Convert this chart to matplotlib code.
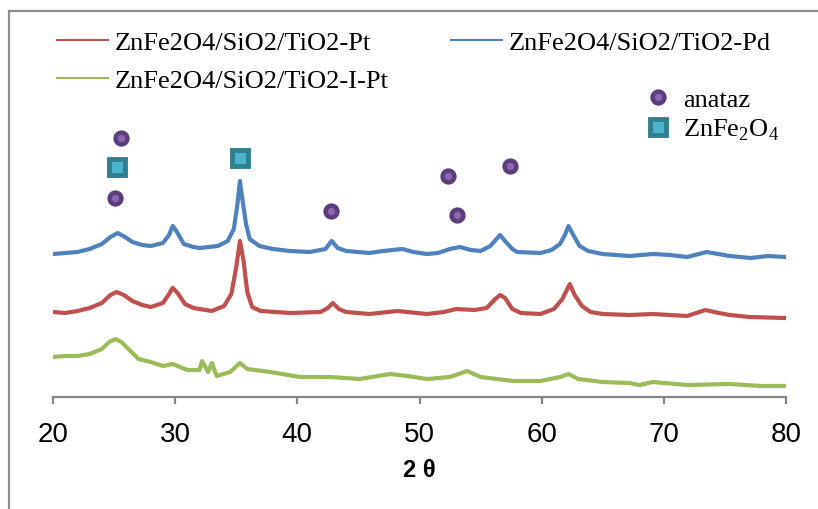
import matplotlib
matplotlib.use('Agg')
import matplotlib.pyplot as plt
from matplotlib.lines import Line2D
from matplotlib.patches import Rectangle

# XRD patterns (2 theta, intensity a.u.)
tt_pd = [20, 21, 22, 23, 24, 24.7, 25.3, 25.9, 26.5, 27.3,
         28, 29, 29.5, 29.8, 30.2, 30.7, 31.5, 32, 33.5, 34.3,
         34.8, 35.1, 35.3, 35.5, 35.8, 36.1, 36.9, 38, 39.4, 41,
         42.3, 42.8, 43.3, 44, 45.9, 47, 48.6, 49.5, 50.6, 51.5,
         52.5, 53.3, 54.2, 55.0, 55.8, 56.3, 56.6, 57.0, 57.6, 58.0,
         59.9, 60.8, 61.5, 61.9, 62.2, 62.5, 63.1, 63.8, 65.0, 67.2,
         69.1, 70.5, 71.9, 73.5, 75.4, 77.1, 78.5, 80]
I_pd = [143, 144, 145, 148, 153, 160, 164, 160, 155, 152,
        151, 154, 162, 171, 164, 153, 150, 149, 151, 156,
        168, 193, 216, 198, 173, 158, 151, 148, 146, 145,
        148, 156, 149, 146, 144, 146, 148, 145, 143, 144,
        148, 150, 147, 146, 151, 158, 162, 156, 148, 145,
        144, 147, 153, 162, 171, 164, 151, 146, 143, 141,
        143, 142, 140, 145, 141, 139, 141, 140]

tt_pt = [20, 21, 22, 23, 24, 24.7, 25.2, 25.8, 26.5, 27.3,
         28, 29, 29.5, 29.8, 30.2, 30.8, 31.5, 33, 34, 34.6,
         35.0, 35.3, 35.6, 35.9, 36.3, 37, 39.4, 41.9, 42.5, 42.9,
         43.4, 44, 45.9, 48.2, 50.6, 52.0, 53.0, 54.5, 55.5, 56.2,
         56.6, 57.0, 57.6, 58.3, 59.9, 61.0, 61.7, 62.3, 62.7, 63.3,
         64.0, 65.0, 67.2, 69.1, 71.9, 73.4, 74.5, 75.4, 77, 80]
I_pt = [85, 84, 86, 89, 94, 102, 105, 102, 96, 92,
        90, 94, 103, 109, 104, 93, 89, 86, 91, 103,
        130, 156, 136, 105, 90, 86, 84, 85, 89, 94,
        88, 85, 83, 86, 83, 85, 88, 87, 89, 98,
        102, 99, 88, 84, 83, 88, 98, 113, 102, 91,
        85, 83, 82, 83, 81, 87, 84, 82, 80, 79]

tt_ipt = [20, 21, 22, 23, 24, 24.6, 25.1, 25.6, 26.0, 26.6,
          27, 28, 29, 29.8, 31, 32, 32.2, 32.7, 33.0, 33.4,
          34.5, 35.3, 35.9, 37.8, 40.2, 42.7, 45.1, 47.6, 49.0, 50.6,
          52.5, 53.9, 55.0, 57.7, 59.9, 61.5, 62.2, 63.0, 65.0, 67.2,
          68, 69.1, 71.9, 75.4, 78, 80]
I_ipt = [40, 41, 41, 43, 48, 55, 58, 55, 50, 43,
         38, 35, 31, 33, 27, 27, 36, 25, 34, 21,
         25, 34, 28, 25, 20, 20, 18, 23, 21, 18,
         20, 26, 20, 16, 16, 20, 23, 18, 15, 14,
         12, 15, 12, 13, 11, 11]

# phase markers
anat_x = [25.57, 25.07, 42.76, 52.33, 53.07, 57.41]
anat_y = [259, 199, 186, 221, 182, 231]
znfe_x = [25.24, 35.31]
znfe_y = [230, 239]

c_pt = '#C0504D'
c_pd = '#4F81BD'
c_ipt = '#9BBB59'

fig = plt.figure(figsize=(8.18, 5.10), dpi=100)
ax = fig.add_axes([53/818, 1-398/510, (786-53)/818, 378/510])

lw = 3.0
l_pt, = ax.plot(tt_pt, I_pt, color=c_pt, lw=lw)
l_pd, = ax.plot(tt_pd, I_pd, color=c_pd, lw=lw)
l_ipt, = ax.plot(tt_ipt, I_ipt, color=c_ipt, lw=lw)

circ = dict(marker='o', ls='none', markersize=8.5, markeredgewidth=3.2,
            markeredgecolor='#5C3D7E', markerfacecolor='#8B67AD')
sq = dict(marker='s', ls='none', markersize=12, markeredgewidth=3.5,
          markeredgecolor='#2F7F8E', markerfacecolor='#4DB3CA')
ax.plot(anat_x, anat_y, **circ)
ax.plot(znfe_x, znfe_y, **sq)

ax.set_xlim(20, 80)
ax.set_ylim(0, 378)
ax.set_xticks([20, 30, 40, 50, 60, 70, 80])
ax.set_yticks([])
for s in ['top', 'right', 'left']:
    ax.spines[s].set_visible(False)
ax.spines['bottom'].set_color('#868686')
ax.spines['bottom'].set_linewidth(1.6)
ax.tick_params(axis='x', direction='out', length=5, width=1.6, color='#868686',
               labelsize=20, pad=12)
for t in ax.get_xticklabels():
    t.set_family(['Liberation Sans Narrow', 'Liberation Sans'])
ax.set_xlabel('2 θ', fontsize=17, fontweight='bold', labelpad=8,
              family=['Liberation Sans Narrow', 'Liberation Sans'])

serif = {'family': 'Liberation Serif', 'size': 19}
leg1 = fig.legend([l_pt, l_ipt, l_pd],
                  ['ZnFe2O4/SiO2/TiO2-Pt', 'ZnFe2O4/SiO2/TiO2-I-Pt', 'ZnFe2O4/SiO2/TiO2-Pd'],
                  ncol=2, loc='upper left', bbox_to_anchor=(57/818, 1-32/510),
                  frameon=False, prop=serif, handlelength=1.95, handletextpad=0.25,
                  columnspacing=2.35, labelspacing=0.55, borderpad=0, borderaxespad=0)
for h in leg1.get_lines():
    h.set_linewidth(1.5)

h_c = Line2D([], [], **circ)
h_s = Line2D([], [], **sq)
fig.legend([h_c, h_s], ['anataz', 'ZnFe$_\\mathregular{2}$O$_\\mathregular{4}$'],
           loc='upper left', bbox_to_anchor=(645/818, 1-89/510), frameon=False,
           prop=serif, handlelength=1.0, handletextpad=0.45, labelspacing=0.2,
           borderpad=0, borderaxespad=0)

# outer chart frame
fig.patches.append(Rectangle((9/818, -0.2), 1.2, 1.2 - 12/510, transform=fig.transFigure,
                             fill=False, edgecolor='#8C8C8C', linewidth=1.6, figure=fig))

fig.savefig('out.png', dpi=100)
